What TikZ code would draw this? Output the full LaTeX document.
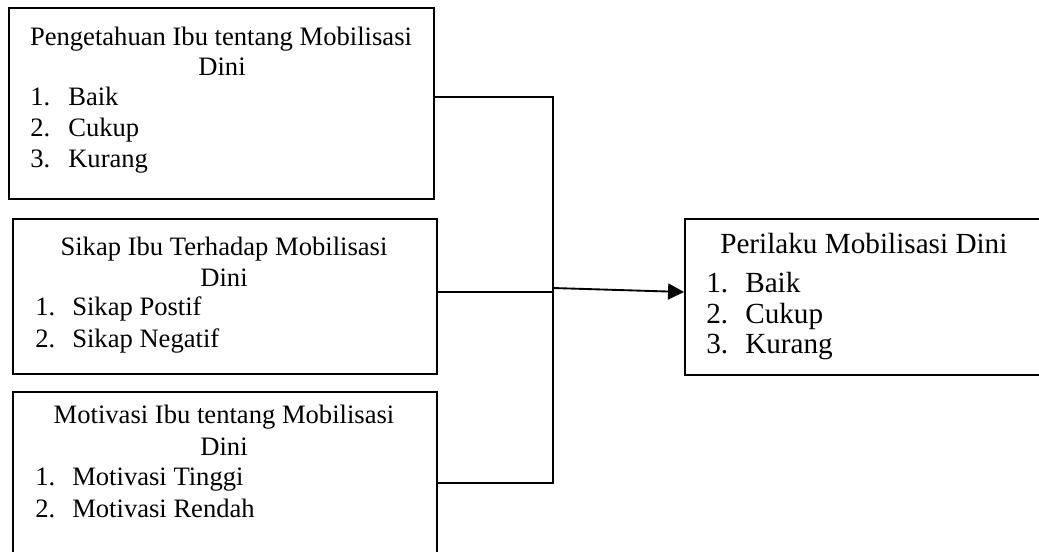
\documentclass[tikz,border=0pt]{standalone}
\usepackage{fontspec}
\setmainfont{Liberation Serif}
\usetikzlibrary{arrows.meta}
\tikzset{
  box/.style={draw=black, line width=1.4pt, rectangle, inner sep=0pt},
  lbl/.style={inner sep=0pt, font=\fontsize{19.95}{24}\selectfont},
  rlbl/.style={inner sep=0pt, font=\fontsize{21.9}{26}\selectfont},
  conn/.style={draw=black, line width=1.4pt},
}
\begin{document}
\begin{tikzpicture}[x=0.75pt, y=-0.75pt]
\clip (0,0) rectangle (1039,551);
\fill[white] (0,0) rectangle (1039,551);
% boxes
\node[box, minimum width=318.75pt, minimum height=143.25pt] (b1) at (221.5,103.5) {};
\node[box, minimum width=318pt, minimum height=116.25pt] (b2) at (225,296.5) {};
\node[box, minimum width=318pt, minimum height=137.25pt] (b3) at (225,483.5) {};
\node[box, minimum width=281.25pt, minimum height=117pt] (b4) at (872.5,297) {};
% box 1 text
\node[lbl, anchor=base] (b1t) at (221,45) {Pengetahuan Ibu tentang Mobilisasi};
\node[lbl, anchor=base] (b1d) at (222,75) {Dini};
\node[lbl, anchor=base west] (b1n1) at (30,105) {1.};
\node[lbl, anchor=base west] (b1i1) at (68,105) {Baik};
\node[lbl, anchor=base west] (b1n2) at (30,136) {2.};
\node[lbl, anchor=base west] (b1i2) at (68,136) {Cukup};
\node[lbl, anchor=base west] (b1n3) at (30,167) {3.};
\node[lbl, anchor=base west] (b1i3) at (68,167) {Kurang};
% box 2 text
\node[lbl, anchor=base] (b2t) at (224,255) {Sikap Ibu Terhadap Mobilisasi};
\node[lbl, anchor=base] (b2d) at (224,286) {Dini};
\node[lbl, anchor=base west] (b2n1) at (35,315) {1.};
\node[lbl, anchor=base west] (b2i1) at (72,315) {Sikap Postif};
\node[lbl, anchor=base west] (b2n2) at (35,347) {2.};
\node[lbl, anchor=base west] (b2i2) at (72,347) {Sikap Negatif};
% box 3 text
\node[lbl, anchor=base] (b3t) at (224,423) {Motivasi Ibu tentang Mobilisasi};
\node[lbl, anchor=base] (b3d) at (224,455) {Dini};
\node[lbl, anchor=base west] (b3n1) at (35,485) {1.};
\node[lbl, anchor=base west] (b3i1) at (72,485) {Motivasi Tinggi};
\node[lbl, anchor=base west] (b3n2) at (35,517) {2.};
\node[lbl, anchor=base west] (b3i2) at (72,517) {Motivasi Rendah};
% box 4 text
\node[rlbl, anchor=base west] (b4t) at (720,253) {Perilaku Mobilisasi Dini};
\node[rlbl, anchor=base west] (b4n1) at (706,292) {1.};
\node[rlbl, anchor=base west] (b4i1) at (745,292) {Baik};
\node[rlbl, anchor=base west] (b4n2) at (706,323) {2.};
\node[rlbl, anchor=base west] (b4i2) at (745,323) {Cukup};
\node[rlbl, anchor=base west] (b4n3) at (706,353) {3.};
\node[rlbl, anchor=base west] (b4i3) at (745,353) {Kurang};
% connectors
\coordinate (ct) at (553,97);
\coordinate (cm) at (553,292);
\coordinate (cb) at (553,483);
\coordinate (ja) at (553,288);
\coordinate (ar) at (685,292);
\draw[conn] (b1.east |- ct) -- (ct) -- (cb) -- (b3.east |- cb);
\draw[conn] (b2.east |- cm) -- (cm);
\draw[conn, -{Triangle[length=12pt, width=12pt]}] (ja) -- (b4.west |- ar);
\end{tikzpicture}
\end{document}
